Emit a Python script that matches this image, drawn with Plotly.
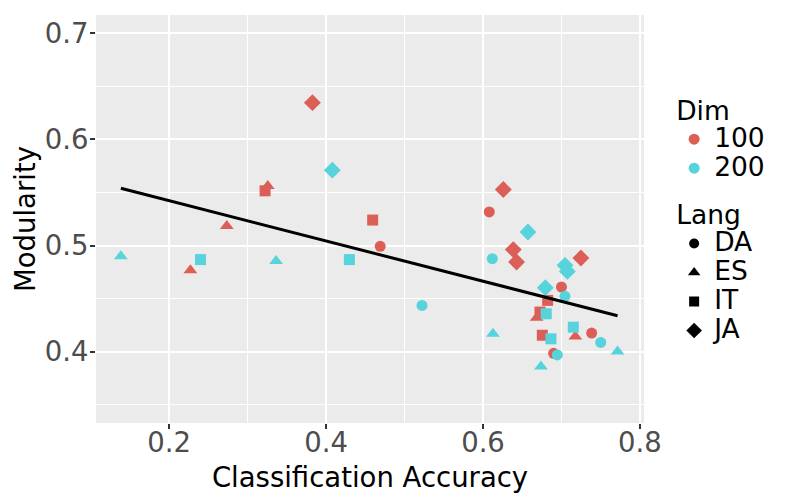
import numpy as np
import plotly.graph_objects as go

# ---- data ----
dims = ["100", "200"]
langs = ["DA", "ES", "IT", "JA"]

acc_100_DA = [0.469, 0.608, 0.700, 0.7385, 0.690]
mod_100_DA = [0.4993, 0.5317, 0.461, 0.4176, 0.3986]
acc_100_ES = [0.3257, 0.2735, 0.2271, 0.6684, 0.7177]
mod_100_ES = [0.556, 0.5185, 0.4767, 0.432, 0.4144]
acc_100_IT = [0.3223, 0.4594, 0.6824, 0.6726, 0.6756]
mod_100_IT = [0.5515, 0.524, 0.4484, 0.4374, 0.4156]
acc_100_JA = [0.3826, 0.6259, 0.6386, 0.6428, 0.7248]
mod_100_JA = [0.6345, 0.5528, 0.4962, 0.4845, 0.4883]

acc_200_DA = [0.6119, 0.5223, 0.7045, 0.750, 0.6947]
mod_200_DA = [0.4877, 0.4437, 0.4522, 0.4088, 0.3971]
acc_200_ES = [0.1385, 0.3363, 0.7715, 0.6127, 0.6739]
mod_200_ES = [0.490, 0.4855, 0.4003, 0.417, 0.3861]
acc_200_IT = [0.240, 0.4297, 0.6806, 0.7151, 0.6866]
mod_200_IT = [0.4868, 0.4868, 0.4358, 0.4232, 0.4122]
acc_200_JA = [0.408, 0.6573, 0.7045, 0.7075, 0.6795]
mod_200_JA = [0.571, 0.5128, 0.4814, 0.4757, 0.4604]

data = {
    ("100", "DA"): (acc_100_DA, mod_100_DA),
    ("100", "ES"): (acc_100_ES, mod_100_ES),
    ("100", "IT"): (acc_100_IT, mod_100_IT),
    ("100", "JA"): (acc_100_JA, mod_100_JA),
    ("200", "DA"): (acc_200_DA, mod_200_DA),
    ("200", "ES"): (acc_200_ES, mod_200_ES),
    ("200", "IT"): (acc_200_IT, mod_200_IT),
    ("200", "JA"): (acc_200_JA, mod_200_JA),
}

x_ticks = [0.2, 0.4, 0.6, 0.8]
y_ticks = [0.4, 0.5, 0.6, 0.7]

# ---- style ----
colors = {"100": "#db5f57", "200": "#57d3db"}
symbols = {"DA": "circle", "ES": "triangle-up", "IT": "square", "JA": "diamond"}
sizes = {"DA": 11, "ES": 12, "IT": 11, "JA": 13}
FONT = "DejaVu Sans"
FS = 27.5


def big(t):
    return f'<span style="font-size:{FS - 1}px">{t}</span>'


fig = go.Figure()

all_x, all_y = [], []
for (d, l), (xs, ys) in data.items():
    all_x += xs
    all_y += ys
    fig.add_trace(go.Scatter(
        x=xs, y=ys, mode="markers", showlegend=False,
        marker=dict(color=colors[d], symbol=symbols[l], size=sizes[l], line=dict(width=0)),
    ))

# linear fit over all points
slope, intercept = np.polyfit(all_x, all_y, 1)
fx = np.array([min(all_x), max(all_x)])
fig.add_trace(go.Scatter(x=fx, y=slope * fx + intercept, mode="lines",
                         line=dict(color="black", width=3), showlegend=False))

# legend entries
for d in dims:
    fig.add_trace(go.Scatter(x=[None], y=[None], mode="markers", name=big(d), legend="legend",
                             marker=dict(color=colors[d], symbol="circle", size=11)))
for l in langs:
    fig.add_trace(go.Scatter(x=[None], y=[None], mode="markers", name=big(l), legend="legend2",
                             marker=dict(color="black", symbol=symbols[l], size=sizes[l] - 1)))

axis_common = dict(
    showgrid=True, gridcolor="white", gridwidth=1.6,
    ticks="outside", ticklen=5, tickwidth=1.5, tickcolor="#333333",
    tickfont=dict(family=FONT, size=FS, color="#4d4d4d"),
    showline=False, zeroline=False, automargin=False,
)

fig.update_layout(
    width=788, height=502,
    margin=dict(l=96, r=144, t=15, b=79),
    paper_bgcolor="white", plot_bgcolor="#ebebeb",
    font=dict(family=FONT, size=FS, color="black"),
    xaxis=dict(range=[0.1068, 0.8052], tickvals=x_ticks, ticktext=[str(v) for v in x_ticks],
               minor=dict(tickvals=[0.3, 0.5, 0.7], showgrid=True, gridcolor="white", gridwidth=0.8),
               title=dict(text="Classification Accuracy", font=dict(family=FONT, size=FS, color="black"), standoff=10),
               ticklabelstandoff=-10,
               **axis_common),
    yaxis=dict(range=[0.333, 0.717], tickvals=y_ticks, ticktext=[str(v) for v in y_ticks],
               minor=dict(tickvals=[0.35, 0.45, 0.55, 0.65], showgrid=True, gridcolor="white", gridwidth=0.8),
               title=dict(text="Modularity", font=dict(family=FONT, size=FS, color="black"), standoff=1),
               ticklabelstandoff=-4,
               **axis_common),
    legend=dict(title=dict(text="Dim", font=dict(family=FONT, size=FS - 1)), x=1.055, y=0.828,
                xanchor="left", yanchor="top", font=dict(family=FONT, size=20),
                tracegroupgap=0, itemwidth=30, bgcolor="rgba(0,0,0,0)"),
    legend2=dict(title=dict(text="Lang", font=dict(family=FONT, size=FS - 1)), x=1.055, y=0.572,
                 xanchor="left", yanchor="top", font=dict(family=FONT, size=20),
                 tracegroupgap=0, itemwidth=30, bgcolor="rgba(0,0,0,0)"),
)

fig.write_html("out.html", config={"displayModeBar": False},
               post_script="document.body.style.margin='0';")
